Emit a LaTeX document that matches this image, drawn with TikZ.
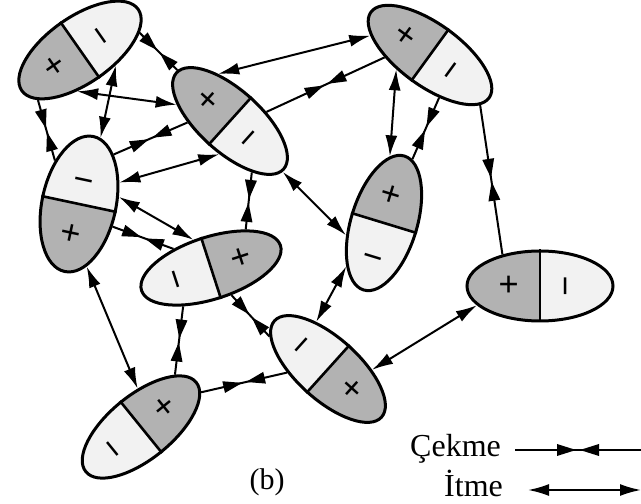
\documentclass[tikz,border=0pt]{standalone}
\usepackage{fontspec}
\setmainfont{Liberation Serif}
\usetikzlibrary{shapes.geometric,arrows.meta,decorations.markings,calc}
\definecolor{darkshade}{gray}{0.70}
\definecolor{lightshade}{gray}{0.95}
\tikzset{
 dip/.style={ellipse, draw, line width=3pt, inner sep=0pt},
 divider/.style={line width=2.6pt},
 sign/.style={font=\fontsize{36}{36}\selectfont\bfseries, inner sep=0pt},
 push/.style={line width=2pt, {Latex[length=21pt,width=12pt]}-{Latex[length=21pt,width=12pt]}},
 pull/.style={line width=2pt, postaction={decorate}, decoration={markings, mark=at position 0.5 with {\fill (-2pt,0pt) -- (-21pt,6pt) -- (-21pt,-6pt) -- cycle; \fill (2pt,0pt) -- (21pt,6pt) -- (21pt,-6pt) -- cycle;}}},
 legend/.style={font=\fontsize{32}{32}\selectfont, inner sep=0pt, anchor=base west}
}
\begin{document}
\begin{tikzpicture}[x=1pt,y=1pt]
\useasboundingbox (0,0) rectangle (641,504);
\foreach \n/\x/\y/\t/\a/\b/\st/\pa/\ma in {
 E1/80/50/35/71/33/90/west/east,
 E2/230/121/-42/72/31/90/west/east,
 E3/430/55/-36/73/31/90/west/east,
 E4/79/204/78/69/37/90/west/east,
 E5/211/268/18/73/31/-90/east/west,
 E6/384/223/73/70/33/-90/east/west,
 E7/540/286/0/73/35/90/west/east,
 E8/328/369/-42/72/31/-90/east/west,
 E9/141/427/39/71/32/-90/east/west}
{
 \begin{scope}[shift={(\x,504-\y)}, rotate=\t]
  \fill[lightshade] (0,0) ellipse [x radius=\a, y radius=\b];
  \fill[darkshade] ({\a*cos(\st)},{\b*sin(\st)}) arc [start angle=\st, delta angle=180, x radius=\a, y radius=\b] -- cycle;
 \end{scope}
 \node[dip, rotate=\t, minimum width=2*\a, minimum height=2*\b] (\n) at (\x,504-\y) {};
 \draw[divider] (\n.north) -- (\n.south);
 \node[sign, rotate=\t] at ($(\n.center)!0.42!(\n.\pa)$) {+};
 \node[sign, rotate=\t+90] at ($(\n.center)!0.42!(\n.\ma)$) {−};
}
% connectors
\draw[pull] (E1.-19) -- (E2.178);
\draw[push] (E3.198) -- (E2.146);
\draw[pull] (E3.219) -- (E2.56);
\draw[push] (E1.231) -- (E2.205);
\draw[pull] (E1.195) -- (E4.41);
\draw[push] (E1.302) -- (E4.354);
\draw[pull] (E2.224) -- (E4.337);
\draw[push] (E2.294) -- (E4.310);
\draw[push] (E4.292) -- (E5.104);
\draw[pull] (E4.248) -- (E5.135);
\draw[pull] (E2.335) -- (E5.30);
\draw[push] (E2.-2) -- (E6.125);
\draw[push] (E3.239) -- (E6.12);
\draw[pull] (E3.-42) -- (E6.-7);
\draw[pull] (E3.-9) -- (E7.140);
\draw[pull] (E5.-71) -- (E8.193);
\draw[push] (E6.156) -- (E8.146);
\draw[push] (E8.41) -- (E7.197);
\draw[pull] (E8.227) -- (E9.-9);
\draw[push] (E4.199) -- (E9.56);
\draw[pull] (E5.216) -- (E9.18);
% label and legend
\node[font=\fontsize{30}{30}\selectfont] (lbl) at (267,504-482) {(b)};
\node[legend] (cek) at (410,504-457) {Çekme};
\node[legend] (itm) at (444,504-497) {İtme};
\coordinate (c1) at (515,504-450);
\coordinate (c2) at (641,504-450);
\coordinate (i1) at (528,504-490);
\coordinate (i2) at (641,504-490);
\draw[pull] (c1) -- (c2);
\draw[push] (i1) -- (i2);
\end{tikzpicture}
\end{document}
